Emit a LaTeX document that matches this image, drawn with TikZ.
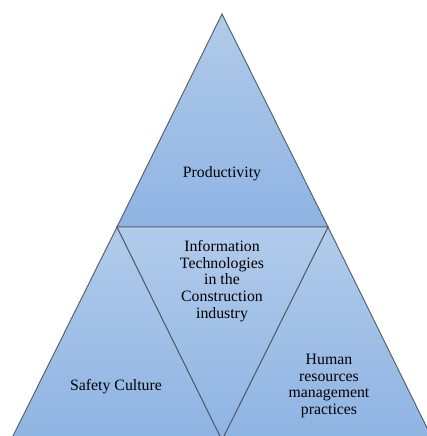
\documentclass[tikz,border=0pt]{standalone}
\usepackage{fontspec}
\setmainfont{Liberation Serif}
\definecolor{parttop}{RGB}{177,203,234}
\definecolor{partbottom}{RGB}{142,180,227}
\definecolor{partline}{RGB}{80,90,100}
\begin{document}
\begin{tikzpicture}[x=1pt, y=-1pt, thick,
	part/.style = {draw=partline, line width=0.9pt, top color=parttop, bottom color=partbottom, line join=miter},
	label/.style = {align=center, font=\fontsize{15.8}{16.6}\selectfont, text=black}]
				\useasboundingbox (0,0) rectangle (426,436);
				\coordinate (A) at (222,14);
				\coordinate (L) at (117,227);
				\coordinate (R) at (328,227);
				\coordinate (BL) at (11,440);
				\coordinate (M) at (222,440);
				\coordinate (BR) at (433,440);
				\path[part] (A) -- (L) -- (R) -- cycle;
				\path[part] (L) -- (BL) -- (M) -- cycle;
				\path[part] (R) -- (M) -- (BR) -- cycle;
				\path[part] (L) -- (R) -- (M) -- cycle;
				\node[label] (1) at (222,174) {Productivity};
				\node[label] (2) at (222,281) {Information\\Technologies\\in the\\Construction\\industry};
				\node[label] (3) at (116,387) {Safety Culture};
				\node[label] (4) at (329,386) {Human\\resources\\management\\practices};
			\end{tikzpicture}
\end{document}
